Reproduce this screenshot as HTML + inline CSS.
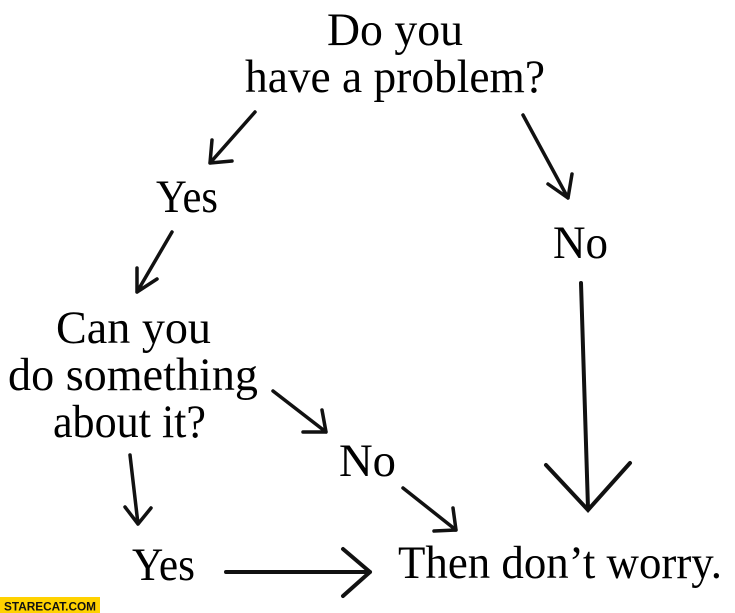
<!DOCTYPE html>
<html><head><meta charset="utf-8"><style>
html,body{margin:0;padding:0;background:#fff;}
svg{display:block}
text{font-family:"Liberation Serif",serif;font-size:47px;fill:#000;}
</style></head><body>
<svg width="735" height="613" viewBox="0 0 735 613" xmlns="http://www.w3.org/2000/svg">
<rect width="735" height="613" fill="#fff"/>
<g>
<text x="327" y="45" textLength="136" lengthAdjust="spacingAndGlyphs">Do you</text>
<text x="245" y="92" textLength="300" lengthAdjust="spacingAndGlyphs">have a problem?</text>
<text x="156" y="212" textLength="62" lengthAdjust="spacingAndGlyphs">Yes</text>
<text x="553" y="258" textLength="55" lengthAdjust="spacingAndGlyphs">No</text>
<text x="56" y="343" textLength="155" lengthAdjust="spacingAndGlyphs">Can you</text>
<text x="8" y="390" textLength="250" lengthAdjust="spacingAndGlyphs">do something</text>
<text x="53" y="437" textLength="153" lengthAdjust="spacingAndGlyphs">about it?</text>
<text x="339" y="476" textLength="57" lengthAdjust="spacingAndGlyphs">No</text>
<text x="132" y="580" textLength="63" lengthAdjust="spacingAndGlyphs">Yes</text>
<text x="398" y="578" textLength="324" lengthAdjust="spacingAndGlyphs">Then don’t worry.</text>
</g>
<g stroke="#111" stroke-width="3.5" fill="none" stroke-linecap="round" stroke-linejoin="miter">
<path d="M255 112 L210 163 M210 163 L212 140 M210 163 L232 161"/>
<path d="M523 115 L568 198 M568 198 L548 184 M568 198 L572 174"/>
<path d="M172 232 L137 292 M137 292 L137 268 M137 292 L157 279"/>
<path d="M581 283 L588 508 M546 465 L588 510 L630 463" stroke-width="4"/>
<path d="M273 391 L326 432 M326 432 L303 432 M326 432 L322 410"/>
<path d="M130 455 L138 524 M138 524 L125 507 M138 524 L151 508"/>
<path d="M403 488 L456 530 M456 530 L434 531 M456 530 L453 508"/>
<path d="M226 572 L370 572 M370 572 L343 549 M370 572 L343 596" stroke-width="4"/>
</g>
<rect x="0" y="597" width="100" height="16" fill="#ffd200"/>
<text x="4" y="610.5" style="font-family:'Liberation Sans',sans-serif;font-size:12px;font-weight:bold;fill:#111" textLength="92" lengthAdjust="spacingAndGlyphs">STARECAT.COM</text>
</svg>
</body></html>
